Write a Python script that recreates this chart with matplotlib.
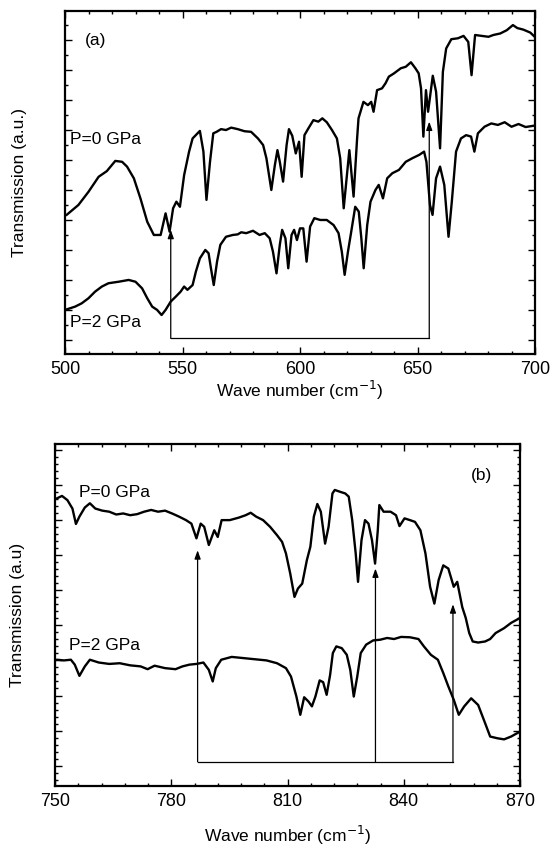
import matplotlib
matplotlib.use("Agg")
import matplotlib.pyplot as plt
from matplotlib.ticker import MultipleLocator

plt.rcParams['font.family'] = ['Liberation Sans', 'DejaVu Sans']

# ---------------- Panel (a) data ----------------
a_p0_wn = [500, 500.7, 505.7, 510, 514.3, 517.8, 521.4, 524.3, 526.4, 529.3, 532.1, 535, 537.8, 540.7,
           542.8, 544.5, 546, 547.4, 548.9, 550.7, 552.8, 554.3, 556.4, 557.4, 558.9, 560.2, 561.7,
           563.1, 564.5, 566.4, 568.5, 570.7, 573.5, 576.4, 579.2, 582.1, 584.3, 585.7, 587.8, 589.3,
           590.4, 591.4, 592.8, 594.3, 595.3, 596.7, 598.2, 599.6, 600.7, 601.9, 603.6, 605.7, 607.8,
           609.5, 611.4, 613.6, 615.7, 617.1, 618.6, 619.7, 621, 622.8, 624.3, 624.9, 627, 628.9,
           630.3, 631.3, 632.8, 634.9, 636.4, 637.8, 640, 642.9, 645, 647.2, 649.1, 650.5, 651.5,
           652.5, 653.6, 654.5, 656.5, 657.9, 659.6, 660.8, 662.2, 664.4, 667.2, 669.6, 671.6, 673,
           674.5, 677.3, 680.2, 682.3, 685.2, 688, 690.6, 692.5, 695, 698, 700]
a_p0_y = [4.15, 4.17, 4.5, 4.94, 5.44, 5.63, 5.97, 5.94, 5.78, 5.39, 4.72, 3.94, 3.5, 3.5,
          4.22, 3.61, 4.39, 4.61, 4.44, 5.5, 6.28, 6.72, 6.89, 6.97, 6.28, 4.67, 5.94,
          6.89, 6.94, 7.03, 7.0, 7.08, 7.03, 6.96, 6.94, 6.72, 6.5, 6.06, 5.0, 5.83,
          6.33, 5.94, 5.28, 6.5, 7.03, 6.81, 6.22, 6.61, 5.44, 6.83, 7.06, 7.33, 7.28,
          7.39, 7.26, 7.0, 6.72, 6.06, 4.39, 5.28, 6.33, 4.78, 6.72, 7.39, 7.94, 7.83,
          7.94, 7.61, 8.33, 8.39, 8.56, 8.78, 8.89, 9.06, 9.11, 9.26, 9.06, 8.89, 8.39,
          6.78, 8.33, 7.61, 8.81, 8.28, 6.39, 8.94, 9.72, 10.03, 10.06, 10.14, 9.94, 8.83,
          10.17, 10.14, 10.11, 10.17, 10.22, 10.33, 10.5, 10.4, 10.35, 10.25, 10.1]

a_p2_wn = [500, 504.3, 507.1, 510, 512.8, 515.7, 518.5, 522.8, 527.1, 530, 532.8, 535, 537.1, 539.2,
           541.1, 542.8, 545, 547.1, 549.2, 550.7, 552.1, 554.3, 555.7, 557.4, 559.7, 561.1, 562.1,
           563.3, 564.7, 566.1, 568.5, 571.4, 573.5, 575, 577.1, 580, 582.8, 585, 587.1, 588.5,
           590, 591.4, 592.4, 593.8, 595, 596.4, 597.5, 598.7, 600, 601.4, 602.8, 604.3, 606.1,
           608.6, 611.4, 614.3, 616.4, 617.8, 619, 620.4, 621.8, 623.5, 625, 626.1, 627.1, 628.6,
           630, 632.1, 633.5, 635.3, 637.1, 639.3, 642.1, 645, 647.8, 650.7, 652.8, 653.8, 655.3,
           656.4, 657.9, 659.6, 661.4, 663.2, 664.6, 666.4, 668.5, 670.7, 672.8, 674.2, 675.7,
           678.5, 681.4, 684.2, 687.1, 690, 693, 696, 700]
a_p2_y = [1.0, 1.11, 1.22, 1.39, 1.61, 1.78, 1.89, 1.94, 2.0, 1.94, 1.72, 1.39, 1.11, 1.0,
          0.83, 1.0, 1.28, 1.44, 1.61, 1.78, 1.67, 1.83, 2.28, 2.72, 3.0, 2.89, 2.39,
          1.83, 2.61, 3.17, 3.44, 3.5, 3.52, 3.59, 3.56, 3.64, 3.5, 3.56, 3.39, 2.94,
          2.22, 3.17, 3.67, 3.39, 2.39, 3.5, 3.67, 3.33, 3.72, 3.72, 2.61, 3.78, 4.06,
          4.0, 4.0, 3.83, 3.56, 2.94, 2.17, 2.94, 3.61, 4.44, 4.28, 3.39, 2.39, 3.83,
          4.61, 5.0, 5.17, 4.72, 5.39, 5.56, 5.67, 5.94, 6.06, 6.17, 6.28, 5.94, 4.5,
          4.17, 5.39, 5.78, 5.17, 3.44, 4.61, 6.28, 6.72, 6.83, 6.78, 6.28, 6.89,
          7.11, 7.22, 7.17, 7.26, 7.11, 7.2, 7.1, 7.15]

a_arrow_x = [545, 655]
a_arrow_tip = [3.67, 7.28]
a_bracket_y = 0.05
a_xticks = [500, 550, 600, 650, 700]

# ---------------- Panel (b) data ----------------
b_p0_wn = [750, 750.5, 751.8, 753.2, 754.5, 755.4, 756.3, 757.7, 759, 760.4, 762.2, 764, 765.8, 767.6,
           769.4, 771.2, 773, 774.8, 776.6, 778.4, 780.2, 782, 783.8, 785.2, 786.5, 787.6, 788.5,
           789.7, 791.1, 792, 793, 795.1, 797.4, 799.2, 800.5, 801.9, 803.7, 805.5, 807.3, 808.6,
           809.6, 810.7, 811.8, 812.7, 813.8, 815, 815.9, 816.8, 817.7, 818.6, 819.7, 820.6, 821.6,
           822.2, 823.5, 824.9, 825.8, 826.7, 827.6, 828.2, 829.1, 830, 830.9, 831.8, 832.6, 833.3,
           833.7, 834.8, 836.6, 838, 838.9, 840.2, 841.6, 842.9, 844.3, 845.6, 846.8, 847.9, 849,
           850.2, 851.5, 852.9, 853.8, 855.1, 856, 856.9, 857.8, 859.2, 861, 862.3, 863.7, 865.9,
           867.7, 870]
b_p0_y = [7.6, 7.62, 7.69, 7.57, 7.33, 6.89, 7.1, 7.36, 7.48, 7.33, 7.27, 7.24, 7.16, 7.19,
          7.14, 7.17, 7.24, 7.29, 7.24, 7.27, 7.19, 7.1, 7.0, 6.9, 6.48, 6.9, 6.81,
          6.29, 6.71, 6.52, 7.0, 7.0, 7.07, 7.14, 7.21, 7.1, 7.0, 6.81, 6.57, 6.38,
          6.05, 5.48, 4.81, 5.05, 5.19, 5.86, 6.24, 7.1, 7.46, 7.24, 6.33, 6.81, 7.76,
          7.86, 7.81, 7.76, 7.67, 7.0, 6.05, 5.24, 6.43, 7.0, 6.9, 6.43, 5.76, 6.71,
          7.43, 7.24, 7.24, 7.14, 6.83, 7.05, 7.0, 6.95, 6.71, 6.05, 5.1, 4.62, 5.29,
          5.71, 5.62, 5.1, 5.24, 4.52, 4.21, 3.78, 3.54, 3.51, 3.54, 3.61, 3.78, 3.92,
          4.07, 4.21]

b_p2_wn = [750, 750.5, 752.3, 754.1, 755.1, 756.3, 757.7, 759, 761.3, 764, 766.7, 769.4, 772.1, 773.9,
           775.7, 778.4, 781.1, 782.9, 784.7, 786.5, 788.3, 789.7, 790.7, 791.5, 792.9, 795.6, 798.3,
           801, 804.6, 807.3, 809.6, 810.9, 812.3, 813.3, 814.3, 815.4, 816.3, 817.2, 818.3, 819.2,
           820.1, 821, 821.7, 822.6, 824, 825.3, 826.2, 827.1, 828, 828.9, 830.3, 832.1, 833.9,
           835.7, 837.5, 839.3, 841.6, 843.8, 845.2, 847, 848.8, 850.2, 851.5, 852.9, 854.2, 855.6,
           857.4, 859.2, 861, 862.3, 864.2, 865.9, 867.7, 870]
b_p2_y = [3.0, 3.02, 3.0, 3.02, 2.88, 2.56, 2.83, 3.02, 2.94, 2.9, 2.92, 2.86, 2.83, 2.75,
          2.85, 2.78, 2.75, 2.83, 2.88, 2.9, 2.94, 2.73, 2.4, 2.78, 3.02, 3.1, 3.07,
          3.04, 3.0, 2.92, 2.78, 2.54, 1.97, 1.45, 1.95, 1.83, 1.69, 1.97, 2.43, 2.38,
          2.02, 2.59, 3.21, 3.4, 3.35, 3.16, 2.73, 1.97, 2.54, 3.21, 3.45, 3.57, 3.59,
          3.64, 3.61, 3.67, 3.66, 3.61, 3.4, 3.16, 3.02, 2.64, 2.26, 1.88, 1.45, 1.69,
          1.92, 1.73, 1.21, 0.83, 0.78, 0.75, 0.83, 0.97]

b_arrow_x = [786.8, 832.7, 852.7]
b_arrow_tip = [6.14, 5.62, 4.6]
b_bracket_y = 0.11
b_xticks = [750, 780, 810, 840, 870]

FS = 12.5
fig = plt.figure(figsize=(5.5, 8.5), dpi=100)
axa = fig.add_axes([65/550, 1 - 354/850, 470/550, 343/850])
axb = fig.add_axes([55/550, 1 - 786/850, 465/550, 342/850])


def style_axes(ax, xmaj, xmin, ymaj, ymin):
    for s in ax.spines.values():
        s.set_linewidth(1.6)
    ax.xaxis.set_major_locator(MultipleLocator(xmaj))
    ax.xaxis.set_minor_locator(MultipleLocator(xmin))
    ax.yaxis.set_major_locator(MultipleLocator(ymaj))
    ax.yaxis.set_minor_locator(MultipleLocator(ymin))
    ax.tick_params(which='both', direction='in', top=True, right=True, width=1.0)
    ax.tick_params(which='major', length=5)
    ax.tick_params(which='minor', length=2.5)
    ax.tick_params(axis='x', labelsize=13, pad=5)
    ax.tick_params(axis='y', labelleft=False)


def bracket(ax, xs, tips, base):
    ax.plot([xs[0], xs[-1]], [base, base], color='black', lw=0.9)
    for x, t in zip(xs, tips):
        ax.annotate('', xy=(x, t), xytext=(x, base),
                    arrowprops=dict(arrowstyle='-|>,head_length=0.5,head_width=0.18',
                                    color='black', lw=0.9, shrinkA=0, shrinkB=0))


# Panel (a)
axa.plot(a_p0_wn, a_p0_y, color='black', lw=1.7)
axa.plot(a_p2_wn, a_p2_y, color='black', lw=1.7)
bracket(axa, a_arrow_x, a_arrow_tip, a_bracket_y)
axa.set_xlim(500, 700)
axa.set_ylim(-0.47, 10.97)
axa.set_xticks(a_xticks)
style_axes(axa, 50, 10, 1, 0.5)
axa.text(508.5, 10.0, '(a)', fontsize=FS, va='center', ha='left')
axa.text(502, 6.7, 'P=0 GPa', fontsize=FS, va='center', ha='left')
axa.text(502, 0.57, 'P=2 GPa', fontsize=FS, va='center', ha='left')
axa.set_xlabel('Wave number (cm$^{-1}$)', fontsize=FS, labelpad=1)
axa.set_ylabel('Transmission (a.u.)', fontsize=FS)
axa.yaxis.set_label_coords(-0.081, 0.5)

# Panel (b)
axb.plot(b_p0_wn, b_p0_y, color='black', lw=1.7)
axb.plot(b_p2_wn, b_p2_y, color='black', lw=1.7)
bracket(axb, b_arrow_x, b_arrow_tip, b_bracket_y)
axb.set_xlim(750, 870)
axb.set_ylim(-0.58, 9.17)
axb.set_xticks(b_xticks)
style_axes(axb, 30, 6, 1, 0.2)
axb.text(860.1, 8.27, '(b)', fontsize=FS, va='center', ha='center')
axb.text(756.3, 7.79, 'P=0 GPa', fontsize=FS, va='center', ha='left')
axb.text(753.6, 3.43, 'P=2 GPa', fontsize=FS, va='center', ha='left')
axb.set_xlabel('Wave number (cm$^{-1}$)', fontsize=FS, labelpad=10)
axb.set_ylabel('Transmission (a.u)', fontsize=FS)
axb.yaxis.set_label_coords(-0.065, 0.5)

fig.savefig('out.png', dpi=100)
